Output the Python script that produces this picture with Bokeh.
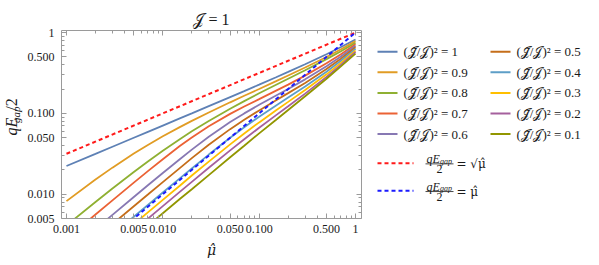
import math
from bokeh.plotting import figure
from bokeh.models import LogAxis, FixedTicker, Range1d
from bokeh.layouts import row
from bokeh.embed import file_html
from bokeh.resources import INLINE
from bokeh.core.properties import value

# ---------------- data ----------------
mu_hat = [0.001, 0.002, 0.003, 0.005, 0.007, 0.01, 0.015, 0.02, 0.03, 0.05,
          0.07, 0.1, 0.15, 0.2, 0.3, 0.5, 0.7, 1.0]
ratio_sq = ["1", "0.9", "0.8", "0.7", "0.6", "0.5", "0.4", "0.3", "0.2", "0.1"]
gap_10 = [0.0223, 0.0315, 0.0386, 0.0499, 0.0591, 0.0706, 0.0866, 0.0999, 0.1227, 0.159,
          0.1887, 0.2265, 0.2797, 0.326, 0.405, 0.539, 0.657, 0.82]
gap_09 = [0.0082, 0.0152, 0.0213, 0.0318, 0.0407, 0.052, 0.0676, 0.0807, 0.1025, 0.137,
          0.1649, 0.200, 0.2503, 0.294, 0.369, 0.499, 0.617, 0.783]
gap_08 = [0.0041, 0.0080, 0.01177, 0.0188, 0.0254, 0.0344, 0.0479, 0.0599, 0.0806, 0.114,
          0.1417, 0.177, 0.2257, 0.268, 0.342, 0.469, 0.584, 0.749]
gap_07 = [0.0028, 0.0056, 0.00838, 0.0139, 0.0193, 0.0271, 0.0394, 0.0504, 0.0694, 0.0986,
          0.1217, 0.150, 0.1912, 0.227, 0.293, 0.416, 0.535, 0.717]
gap_06 = [0.00185, 0.0037, 0.00554, 0.00923, 0.01288, 0.0183, 0.0271, 0.0356, 0.0513, 0.0780,
          0.0999, 0.1275, 0.1662, 0.2006, 0.2635, 0.3825, 0.501, 0.685]
gap_05 = [0.00142, 0.00284, 0.00426, 0.0071, 0.0099, 0.0141, 0.021, 0.0279, 0.0408, 0.0638,
          0.0836, 0.1087, 0.1451, 0.178, 0.2375, 0.353, 0.471, 0.657]
gap_04 = [0.00105, 0.0021, 0.00315, 0.00525, 0.00735, 0.0105, 0.01567, 0.0208, 0.0309, 0.0499,
          0.0673, 0.0909, 0.1255, 0.157, 0.2151, 0.328, 0.444, 0.628]
gap_03 = [0.00085, 0.0017, 0.00255, 0.00425, 0.00595, 0.0085, 0.01273, 0.0170, 0.02528, 0.0413,
          0.0564, 0.0773, 0.1092, 0.1387, 0.1945, 0.304, 0.418, 0.600]
gap_02 = [0.00071, 0.00142, 0.00213, 0.00355, 0.00498, 0.00712, 0.01067, 0.0142, 0.02122, 0.0348,
          0.0478, 0.0663, 0.0951, 0.1225, 0.1755, 0.283, 0.395, 0.574]
gap_01 = [0.00058, 0.00116, 0.00174, 0.0029, 0.00406, 0.0058, 0.0087, 0.0115, 0.0172, 0.0286,
          0.0398, 0.0566, 0.0832, 0.110, 0.163, 0.268, 0.379, 0.549]
gap_series = [gap_10, gap_09, gap_08, gap_07, gap_06, gap_05, gap_04, gap_03, gap_02, gap_01]

ref_mu = [0.001, 1.0]
ref_sqrt_mu = [0.0316, 1.0]
ref_lin_mu = [0.001, 1.0]

x_ticks = [0.001, 0.005, 0.01, 0.05, 0.1, 0.5, 1.0]
x_tick_labels = ["0.001", "0.005", "0.010", "0.050", "0.100", "0.500", "1"]
y_ticks = [0.005, 0.01, 0.05, 0.1, 0.5, 1.0]
y_tick_labels = ["0.005", "0.010", "0.050", "0.100", "0.500", "1"]

colors = ["#5E81B5", "#E19C24", "#8FB032", "#EB6235", "#8778B3",
          "#C56E1A", "#5D9EC7", "#FFBF00", "#A5609D", "#929600"]
RED = "#FF1A1A"
BLUE = "#1A1AFF"
FONT = "Liberation Serif"
MFONT = "DejaVu Serif"
AX = "#9a9a9a"
TXT = "#1a1a1a"

x_minor = [k * 10.0 ** e for e in (-3, -2, -1) for k in range(2, 10) if k != 5]
y_minor = [k * 10.0 ** e for e in (-3, -2, -1) for k in range(2, 10)
           if k * 10.0 ** e > 0.005 and k != 5]

H = 265
WL = 24          # y-label strip
W1 = 346         # main plot
W2 = 599 - WL - W1


def blank(w, h, xr, yr):
    f = figure(width=w, height=h, x_range=xr, y_range=yr,
               output_backend="svg", toolbar_location=None, min_border=0,
               min_border_left=0, min_border_right=0, min_border_top=0, min_border_bottom=0,
               x_axis_location=None, y_axis_location=None, outline_line_color=None,
               background_fill_color="white", border_fill_color="white")
    f.grid.visible = False
    return f


# ---------------- y-axis label strip ----------------
lf = blank(WL, H, Range1d(0, WL), Range1d(0, H))
lf.text(x=[11], y=[117], text=["qE"], angle=math.pi / 2, text_font=value(FONT),
        text_font_style="italic", text_font_size="16px", text_color=TXT,
        text_baseline="middle", text_align="left")
lf.text(x=[15], y=[134.5], text=["gap"], angle=math.pi / 2, text_font=value(FONT),
        text_font_style="italic", text_font_size="11px", text_color=TXT,
        text_baseline="middle", text_align="left")
lf.text(x=[11], y=[152], text=["/2"], angle=math.pi / 2, text_font=value(FONT),
        text_font_size="16px", text_color=TXT,
        text_baseline="middle", text_align="left")

# ---------------- main plot ----------------
p = figure(width=W1, height=H, x_axis_type="log", y_axis_type="log",
           x_range=Range1d(0.000888, 1.154), y_range=Range1d(0.005, 1.06),
           output_backend="svg", toolbar_location=None,
           min_border_left=36, min_border_right=9, min_border_top=30, min_border_bottom=47,
           background_fill_color="white", border_fill_color="white",
           outline_line_color=None)
p.grid.visible = False
p.title.text = "𝒥 = 1"
p.title.align = "center"
p.title.text_font = FONT
p.title.text_font_size = "16px"
p.title.text_font_style = "normal"
p.title.text_color = TXT
p.title.standoff = 6

for ys, c in zip(gap_series, colors):
    p.line(mu_hat, ys, line_color=c, line_width=1.8)
p.line(ref_mu, ref_sqrt_mu, line_color=RED, line_width=2.0, line_dash="4 3")
p.line(ref_mu, ref_lin_mu, line_color=BLUE, line_width=2.0, line_dash="4 3")


def style_axis(ax, show_labels):
    ax.axis_line_color = AX
    ax.major_tick_line_color = AX
    ax.minor_tick_line_color = AX
    ax.major_tick_in = 5
    ax.major_tick_out = 0
    ax.minor_tick_in = 3
    ax.minor_tick_out = 0
    if show_labels:
        ax.major_label_text_font = FONT
        ax.major_label_text_font_size = "12px"
        ax.major_label_text_color = TXT
    else:
        ax.major_label_text_font_size = "1px"
        ax.major_label_text_color = None
        ax.major_label_standoff = 0


xb = p.xaxis[0]
xb.ticker = FixedTicker(ticks=x_ticks, minor_ticks=x_minor)
xb.major_label_overrides = dict(zip(x_ticks, x_tick_labels))
style_axis(xb, True)
xb.major_label_standoff = 6
xb.axis_label = "μ̂"
xb.axis_label_text_font = MFONT
xb.axis_label_text_font_style = "italic"
xb.axis_label_text_font_size = "14px"
xb.axis_label_text_color = TXT
xb.axis_label_standoff = 6

yl = p.yaxis[0]
yl.ticker = FixedTicker(ticks=y_ticks, minor_ticks=y_minor)
yl.major_label_overrides = dict(zip(y_ticks, y_tick_labels))
style_axis(yl, True)
yl.major_label_standoff = 7

xt = LogAxis(ticker=FixedTicker(ticks=x_ticks, minor_ticks=x_minor))
style_axis(xt, False)
p.add_layout(xt, "above")
yr = LogAxis(ticker=FixedTicker(ticks=y_ticks, minor_ticks=y_minor))
style_axis(yr, False)
p.add_layout(yr, "right")

# ---------------- legend panel ----------------
q = blank(W2, H, Range1d(0, W2), Range1d(H, 0))

for i, (lab, c) in enumerate(zip(ratio_sq, colors)):
    col, r = divmod(i, 5)
    x0 = 7 + 113 * col
    y0 = 30 + 29 * r
    q.line([x0, x0 + 20], [y0, y0], line_color=c, line_width=2.0)
    q.text(x=[x0 + 26], y=[y0], text=["(𝒥̃/𝒥)² = " + lab],
           text_font=value(FONT), text_font_size="13px", text_color=TXT,
           text_baseline="middle", text_align="left")

for y0, c, rhs in [(187, RED, "= √μ̂"), (226, BLUE, "= μ̂")]:
    q.line([7, 43], [y0, y0], line_color=c, line_width=2.0, line_dash="4 3")
    q.text(x=[56], y=[y0 - 5.5], text=["qE"], text_font=value(FONT),
           text_font_style="italic", text_font_size="12px", text_color=TXT,
           text_baseline="middle", text_align="left")
    q.text(x=[69.5], y=[y0 - 3], text=["gap"], text_font=value(FONT),
           text_font_style="italic", text_font_size="8px", text_color=TXT,
           text_baseline="middle", text_align="left")
    q.line([55, 83], [y0 + 1, y0 + 1], line_color=TXT, line_width=0.8)
    q.text(x=[69], y=[y0 + 8], text=["2"], text_font=value(FONT),
           text_font_size="12px", text_color=TXT,
           text_baseline="middle", text_align="center")
    q.text(x=[86], y=[y0 + 1], text=[rhs], text_font=value(MFONT),
           text_font_size="12px", text_color=TXT,
           text_baseline="middle", text_align="left")

layout = row(lf, p, q)
open("out.html", "w").write(file_html(layout, INLINE))
